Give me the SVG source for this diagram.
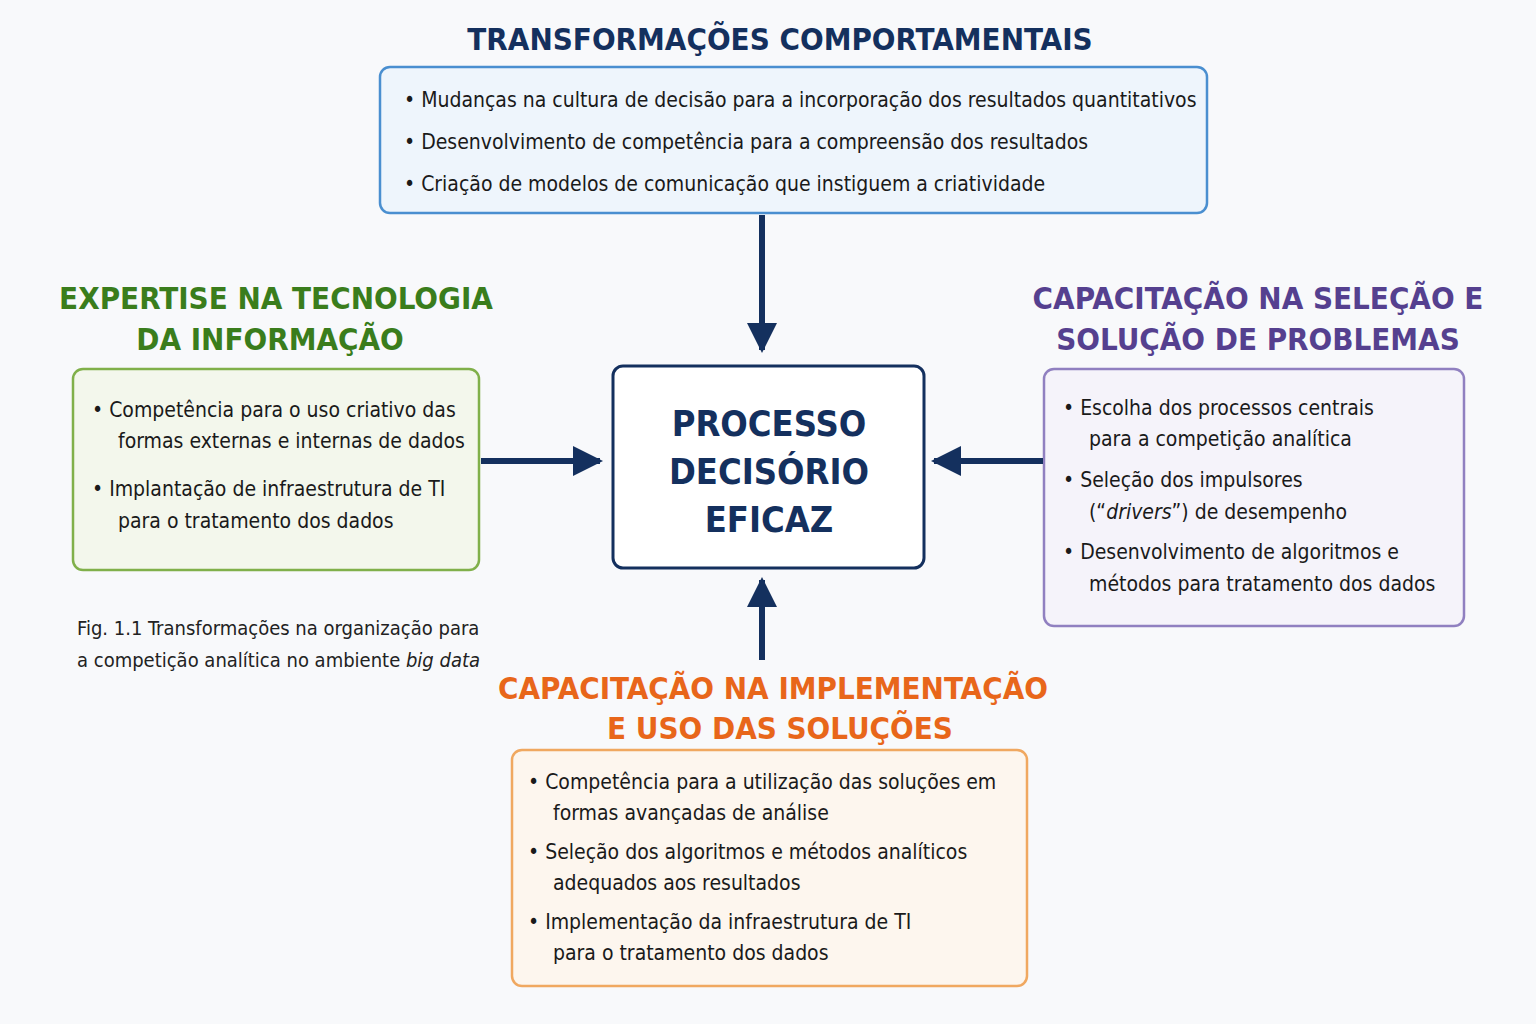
<svg xmlns="http://www.w3.org/2000/svg" width="1536" height="1024" viewBox="0 0 1536 1024">
<defs>
<style>
text{font-family:"DejaVu Sans Condensed","Liberation Sans",sans-serif;}
.b{font-size:21px;fill:#1a1a1a}
.h{font-size:31px;font-weight:bold}
.c{stroke:#14305e;stroke-width:6;fill:none}
</style>
<marker id="a" viewBox="0 0 10 10" refX="9" refY="5" markerWidth="5" markerHeight="5" orient="auto" markerUnits="strokeWidth"><path d="M0,0L10,5L0,10Z" fill="#14305e"/></marker>
</defs>
<rect width="1536" height="1024" fill="#f8f9fb"/>
<g id="top">
<text x="780" y="50" text-anchor="middle" class="h" fill="#14305e">TRANSFORMAÇÕES COMPORTAMENTAIS</text>
<rect x="380" y="67" width="827" height="146" rx="10" fill="#eef5fc" stroke="#4a8fd0" stroke-width="2.5"/>
<text class="b" x="404" y="107">•  Mudanças na cultura de decisão para a incorporação dos resultados quantitativos</text>
<text class="b" x="404" y="149">•  Desenvolvimento de competência para a compreensão dos resultados</text>
<text class="b" x="404" y="191">•  Criação de modelos de comunicação que instiguem a criatividade</text>
</g>
<g id="left">
<text x="276" y="309" text-anchor="middle" class="h" fill="#3a7d1c">EXPERTISE NA TECNOLOGIA</text>
<text x="270" y="350" text-anchor="middle" class="h" fill="#3a7d1c">DA INFORMAÇÃO</text>
<rect x="73" y="369" width="406" height="201" rx="10" fill="#f3f7ec" stroke="#80b04a" stroke-width="2.5"/>
<text class="b" x="92" y="417">•  Competência para o uso criativo das</text>
<text class="b" x="118" y="448">formas externas e internas de dados</text>
<text class="b" x="92" y="496">•  Implantação de infraestrutura de TI</text>
<text class="b" x="118" y="528">para o tratamento dos dados</text>
</g>
<g id="center">
<rect x="613" y="366" width="311" height="202" rx="10" fill="#ffffff" stroke="#14305e" stroke-width="3"/>
<text x="769" y="436" text-anchor="middle" class="h" font-size="36" fill="#14305e" style="font-size:36px">PROCESSO</text>
<text x="769" y="484" text-anchor="middle" class="h" fill="#14305e" style="font-size:36px">DECISÓRIO</text>
<text x="769" y="532" text-anchor="middle" class="h" fill="#14305e" style="font-size:36px">EFICAZ</text>
</g>
<g id="right">
<text x="1258" y="309" text-anchor="middle" class="h" fill="#55408f">CAPACITAÇÃO NA  SELEÇÃO E</text>
<text x="1258" y="350" text-anchor="middle" class="h" fill="#55408f">SOLUÇÃO DE PROBLEMAS</text>
<rect x="1044" y="369" width="420" height="257" rx="10" fill="#f5f3fa" stroke="#9080c0" stroke-width="2.5"/>
<text class="b" x="1063" y="415">•  Escolha dos processos centrais</text>
<text class="b" x="1089" y="446">para a competição analítica</text>
<text class="b" x="1063" y="487">•  Seleção dos impulsores</text>
<text class="b" x="1089" y="519">(“<tspan font-style="italic">drivers</tspan>”) de desempenho</text>
<text class="b" x="1063" y="559">•  Desenvolvimento de algoritmos e</text>
<text class="b" x="1089" y="591">métodos para tratamento dos dados</text>
</g>
<g id="bottom">
<text x="773" y="699" text-anchor="middle" class="h" fill="#e8661a">CAPACITAÇÃO NA IMPLEMENTAÇÃO</text>
<text x="780" y="739" text-anchor="middle" class="h" fill="#e8661a">E USO DAS SOLUÇÕES</text>
<rect x="512" y="750" width="515" height="236" rx="10" fill="#fdf6ee" stroke="#f0a860" stroke-width="2.5"/>
<text class="b" x="528" y="789">•  Competência para a utilização das soluções em</text>
<text class="b" x="553" y="820">formas avançadas de análise</text>
<text class="b" x="528" y="859">•  Seleção dos algoritmos e métodos analíticos</text>
<text class="b" x="553" y="890">adequados aos resultados</text>
<text class="b" x="528" y="929">•  Implementação da infraestrutura de TI</text>
<text class="b" x="553" y="960">para o tratamento dos dados</text>
</g>
<g id="caption">
<text x="77" y="635" style="font-size:20px" fill="#222">Fig. 1.1 Transformações na organização para</text>
<text x="77" y="667" style="font-size:20px" fill="#222">a competição analítica no ambiente <tspan font-style="italic">big data</tspan></text>
</g>
<g id="connectors">
<line class="c" x1="762" y1="215" x2="762" y2="350" marker-end="url(#a)"/>
<line class="c" x1="481" y1="461" x2="600" y2="461" marker-end="url(#a)"/>
<line class="c" x1="1043" y1="461" x2="934" y2="461" marker-end="url(#a)"/>
<line class="c" x1="762" y1="660" x2="762" y2="580" marker-end="url(#a)"/>
</g>
</svg>
